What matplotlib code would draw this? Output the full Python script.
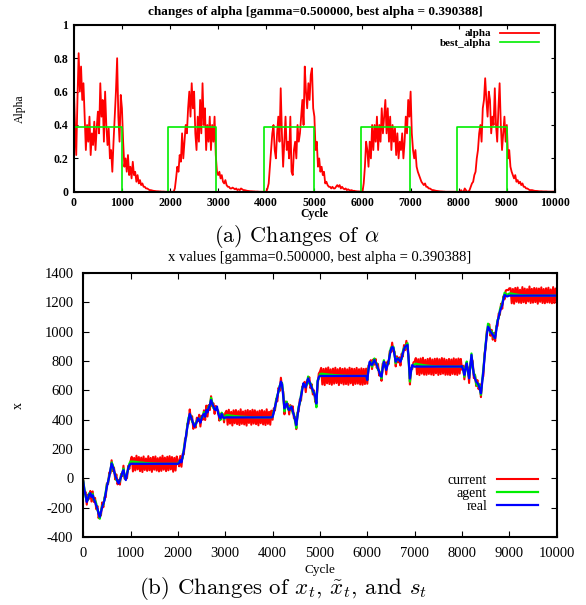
import numpy as np
import matplotlib
matplotlib.use("Agg")
import matplotlib.pyplot as plt

plt.rcParams['font.family'] = ['Liberation Serif', 'DejaVu Serif']
plt.rcParams['mathtext.fontset'] = 'cm'
plt.rcParams['axes.unicode_minus'] = False

# cycles sampled every 25 steps
cycle = np.arange(0, 10001, 25)

# alpha (active blocks 41 pts, idle blocks 39/40 pts)
alpha = ([0.62, 0.40, 0.22, 0.55, 0.83, 0.60, 0.75, 0.55, 0.65, 0.45, 0.25, 0.40, 0.30, 0.45, 0.22, 0.35, 0.28, 0.42, 0.25, 0.38,
          0.48, 0.35, 0.65, 0.45, 0.55, 0.30, 0.60, 0.40, 0.28, 0.38, 0.20, 0.25, 0.12, 0.30, 0.45, 0.60, 0.80, 0.45, 0.30, 0.58, 0.50]
         + [0.30, 0.15, 0.20, 0.12, 0.22, 0.10, 0.15, 0.08, 0.18, 0.10, 0.12, 0.06, 0.10, 0.05, 0.07, 0.04, 0.05, 0.03, 0.03, 0.02,
            0.02, 0.015, 0.01, 0.01, 0.008, 0.006, 0.005, 0.004, 0.003, 0.003, 0.002, 0.002, 0.001, 0.001, 0.001, 0.0, 0.0, 0.0, 0.0]
         + [0.0, 0.0, 0.0, 0.0, 0.02, 0.08, 0.15, 0.12, 0.22, 0.18, 0.35, 0.20, 0.30, 0.40, 0.35, 0.50, 0.60, 0.45, 0.65, 0.50,
            0.60, 0.35, 0.25, 0.45, 0.30, 0.55, 0.35, 0.65, 0.40, 0.50, 0.25, 0.40, 0.30, 0.45, 0.25, 0.40, 0.30, 0.45, 0.22, 0.12, 0.10]
         + [0.12, 0.08, 0.10, 0.06, 0.05, 0.07, 0.04, 0.03, 0.03, 0.02, 0.02, 0.025, 0.02, 0.015, 0.02, 0.01, 0.015, 0.01, 0.02, 0.015,
            0.01, 0.01, 0.008, 0.006, 0.005, 0.004, 0.003, 0.003, 0.002, 0.002, 0.001, 0.001, 0.001, 0.0, 0.0, 0.0, 0.0, 0.0, 0.0]
         + [0.0, 0.02, 0.05, 0.15, 0.25, 0.35, 0.40, 0.25, 0.20, 0.35, 0.45, 0.30, 0.62, 0.35, 0.15, 0.30, 0.45, 0.25, 0.30, 0.20,
            0.45, 0.12, 0.10, 0.25, 0.30, 0.20, 0.40, 0.30, 0.35, 0.45, 0.55, 0.40, 0.75, 0.60, 0.50, 0.65, 0.55, 0.70, 0.74, 0.50, 0.45]
         + [0.25, 0.30, 0.15, 0.20, 0.12, 0.15, 0.10, 0.12, 0.05, 0.06, 0.04, 0.03, 0.03, 0.02, 0.03, 0.02, 0.02, 0.03, 0.04, 0.03,
            0.04, 0.02, 0.03, 0.02, 0.015, 0.02, 0.01, 0.015, 0.01, 0.008, 0.01, 0.005, 0.006, 0.004, 0.003, 0.002, 0.002, 0.001, 0.0]
         + [0.0, 0.05, 0.15, 0.30, 0.25, 0.15, 0.30, 0.20, 0.40, 0.25, 0.40, 0.30, 0.45, 0.25, 0.40, 0.30, 0.50, 0.35, 0.45, 0.55,
            0.35, 0.50, 0.30, 0.45, 0.25, 0.40, 0.30, 0.38, 0.22, 0.35, 0.20, 0.30, 0.25, 0.35, 0.20, 0.30, 0.45, 0.35, 0.55, 0.45, 0.60]
         + [0.35, 0.25, 0.20, 0.25, 0.15, 0.12, 0.10, 0.08, 0.06, 0.05, 0.04, 0.05, 0.03, 0.03, 0.02, 0.02, 0.015, 0.01, 0.01, 0.008,
            0.006, 0.005, 0.004, 0.003, 0.002, 0.002, 0.001, 0.001, 0.0, 0.0, 0.0, 0.0, 0.0, 0.0, 0.0, 0.0, 0.0, 0.0, 0.0]
         + [0.0, 0.0, 0.01, 0.0, 0.0, 0.02, 0.01, 0.0, 0.0, 0.01, 0.03, 0.05, 0.06, 0.10, 0.12, 0.20, 0.25, 0.35, 0.40, 0.30,
            0.50, 0.55, 0.68, 0.55, 0.45, 0.60, 0.55, 0.35, 0.45, 0.40, 0.62, 0.40, 0.30, 0.50, 0.65, 0.40, 0.25, 0.35, 0.45, 0.30, 0.40]
         + [0.20, 0.25, 0.15, 0.12, 0.10, 0.08, 0.10, 0.06, 0.07, 0.05, 0.06, 0.04, 0.05, 0.03, 0.03, 0.02, 0.02, 0.015, 0.01, 0.01,
            0.01, 0.008, 0.006, 0.005, 0.005, 0.004, 0.003, 0.003, 0.003, 0.002, 0.002, 0.002, 0.002, 0.001, 0.001, 0.001, 0.001, 0.001, 0.001, 0.0])

# best_alpha switches
best_cycle = [0, 1000, 1960, 2960, 3950, 5000, 5960, 6980, 7970, 9000, 10000]
best_alpha = [0.390388, 0.0, 0.390388, 0.0, 0.390388, 0.0, 0.390388, 0.0, 0.390388, 0.0, 0.0]

# real x values
real = ([-20, -80, -114, -160, -140, -110, -100, -125, -114, -140, -160, -185, -205, -240, -262, -230, -195, -170, -148, -100,
         -57, -20, 11, 60, 102, 80, 57, 20, 0, -20, -34, -10, 11, 40, 57, 20, -11, 30, 68, 90, 100]
        + [100] * 39
        + [100, 105, 125, 110, 150, 190, 240, 300, 350, 400, 440, 420, 398, 370, 352, 370, 386, 410, 400, 380,
           409, 430, 440, 420, 466, 450, 480, 500, 534, 510, 490, 470, 466, 490, 443, 420, 409, 440, 420, 410, 416]
        + [416] * 39
        + [420, 450, 489, 520, 557, 600, 625, 660, 640, 560, 477, 500, 511, 480, 466, 480, 489, 460, 432, 400,
           364, 420, 480, 520, 560, 600, 648, 630, 620, 650, 682, 660, 640, 620, 600, 580, 557, 510, 659, 690, 698]
        + [698] * 39
        + [670, 740, 795, 780, 773, 790, 807, 790, 773, 750, 727, 700, 693, 750, 795, 770, 739, 770, 800, 840,
           880, 895, 890, 840, 795, 810, 818, 805, 795, 820, 852, 880, 898, 905, 909, 800, 680, 730, 773, 765, 761]
        + [762] * 39
        + [765, 740, 705, 750, 784, 730, 682, 760, 841, 770, 705, 680, 659, 650, 636, 610, 580, 650, 727, 820,
           909, 980, 1034, 1020, 1000, 990, 977, 965, 955, 1010, 1068, 1100, 1136, 1160, 1182, 1220, 1250, 1245, 1239, 1242, 1245]
        + [1245] * 40)

# agent offset from real
settle = [15, 15, 14, 13, 12, 11, 10, 9, 8, 8, 7, 6, 5, 5, 4, 4, 3, 3, 2, 2, 2, 1, 1, 1, 1] + [0] * 14
agent_gap = ([5, 12, -10, 8, -6, 10, -12, 8, 10, -8, 12, 15, -10, 8, -12, 10, 8, -10, 12, 8,
              15, -8, 10, -12, 8, 12, -10, 8, -12, 10, 8, -10, 12, -8, 10, -12, 8, 10, -8, 12, 15]
             + settle
             + [0, 10, -12, 15, -10, 12, 10, -8, 12, 15, -10, 8, -12, 10, 12, -8, 10, -12, 8, 10,
                8, -10, 12, 15, -8, 10, 12, -10, 15, 8, -12, 10, 8, -15, 12, 10, -10, 8, 12, -8, 8]
             + settle
             + [0, 12, -10, 15, 10, -12, 8, -15, 10, 12, -20, 10, 12, -10, 8, 12, -10, -15, 10, -12,
                -20, 10, 12, -10, 8, 15, -12, 10, 8, -10, 12, -15, 10, 8, -12, 10, -10, -25, 10, -12, 12]
             + settle
             + [0, 12, -10, 10, -12, 8, 10, -8, 12, -10, 8, 10, -12, 8, 10, -10, 12, 10, -15, 10,
                12, -10, 8, 12, -10, 10, -12, 8, 10, -8, 12, 10, -10, 8, 12, -15, -20, 10, -12, 10, 15]
             + [20, 18, 16, 15, 13, 12, 10, 9, 8, 7, 6, 5, 4, 4, 3, 3, 2, 2, 1, 1, 1] + [0] * 18
             + [0, 10, -12, 8, 12, -10, 10, -8, 10, -12, 12, 20, -15, -20, 10, 12, -10, 12, 15, 12,
                10, 12, 20, 15, -10, 12, 10, -8, 12, 10, 12, -10, 12, 15, 12, 10, 15, 12, 10, 12, 15]
             + [15, 14, 12, 10, 9, 8, 6, 5, 4, 4, 3, 3, 2, 2, 1, 1, 1] + [0] * 23)

# current offset from real (noise band)
current_gap = ([10, -25, 22, -18, 30, -28, 15, -32, 26, -20, 28, -24, 18, -30, 25, -22, 32, -26, 20, -28,
                24, -18, 30, -25, 22, -30, 18, -26, 28, -20, 25, -32, 20, -24, 30, -22, 26, -28, 18, -25, 20]
               + [48, -52, 40, -45, 55, -38, 46, -50, 42, -56, 50, -42, 36, -48, 52, -44, 40, -55, 47, -40,
                  50, -46, 38, -52, 44, -48, 55, -40, 42, -50, 48, -44, 52, -38, 46, -54, 40, -46, 50]
               + [20, -22, 28, -30, 18, -26, 32, -20, 24, -28, 30, -18, 26, -32, 22, -24, 28, -20, 34, -26,
                  18, -30, 24, -22, 30, -28, 20, -34, 26, -18, 22, -30, 28, -24, 20, -26, 32, -22, 18, -28, 30]
               + [45, -50, 52, -42, 38, -55, 48, -40, 50, -46, 42, -52, 55, -44, 40, -48, 46, -56, 50, -38,
                  44, -50, 52, -42, 48, -46, 40, -54, 46, -40, 50, -48, 42, -52, 55, -44, 38, -50, 46]
               + [-20, 28, -26, 22, -32, 18, -30, 26, -24, 30, -40, 24, -22, 28, -30, 20, -26, 32, -22, 18,
                  -28, 30, -24, 20, -30, 26, -22, 28, -32, 18, -24, 30, -26, 22, -28, 20, -36, 26, -30, 24, 30]
               + [55, -58, 48, -62, 52, -50, 58, -55, 45, -60, 50, -52, 56, -48, 46, -62, 54, -50, 48, -58,
                  52, -55, 45, -60, 56, -50, 50, -62, 48, -54, 55, -52, 46, -58, 52, -60, 48, -55, 50]
               + [-25, 30, -22, 26, -28, 20, -32, 24, -20, 30, -26, 22, -28, 32, -24, 20, -30, 26, -22, 28,
                  -20, 30, -26, 24, -32, 22, -28, 20, -26, 30, -22, 28, -24, 32, -30, 24, -40, 22, -28, 26, 35]
               + [58, -52, 50, -58, 55, -48, 60, -55, 46, -56, 52, -50, 57, -54, 48, -58, 53, -46, 55, -57,
                  50, -52, 58, -48, 54, -56, 46, -55, 52, -58, 48, -50, 56, -54, 50, -57, 55, -48, 52]
               + [-25, 28, -30, 22, -20, 26, -32, 24, -28, 30, -22, 26, -30, 20, -28, 32, -26, 22, -30, 28,
                  -20, 26, -24, 30, -28, 22, -32, 26, -20, 28, -30, 24, -22, 30, -26, 20, -30, 35, 45, 40, 50]
               + [50, -52, 45, -55, 52, -42, 55, -48, 40, -50, 58, -45, 48, -52, 44, -40, 62, -50, 46, -48,
                  52, -44, 50, -55, 48, -42, 56, -50, 45, -52, 50, -46, 54, -48, 42, -52, 58, -50, 48, -46])

real = np.array(real, dtype=float)
agent = real + np.array(agent_gap)
current = real + np.array(current_gap)

fig = plt.figure(figsize=(5.86, 6.05), dpi=100)

# ---- (a) alpha ----
ax1 = fig.add_axes([0.126, 0.683, 0.821, 0.276])
ax1.plot(cycle, alpha, color='#ff0000', lw=1.3, label='alpha')
ax1.step(best_cycle, best_alpha, where='post', color='#00ee00', lw=1.2, label='best_alpha')
ax1.set_xlim(0, 10000)
ax1.set_ylim(0, 1)
ax1.set_xticks(np.arange(0, 10001, 1000))
ax1.set_yticks([0, 0.2, 0.4, 0.6, 0.8, 1])
ax1.set_yticklabels(['0', '0.2', '0.4', '0.6', '0.8', '1'])
ax1.tick_params(direction='in', top=True, right=True, labelsize=8.5, length=3, pad=4)
for lbl in ax1.get_xticklabels() + ax1.get_yticklabels():
    lbl.set_fontweight('bold')
ax1.set_xlabel('Cycle', fontsize=8.5, fontweight='bold', labelpad=-1)
ax1.set_ylabel('Alpha', fontsize=8.5, labelpad=20)
for s in ax1.spines.values():
    s.set_linewidth(1.5)
ax1.legend(loc='upper right', bbox_to_anchor=(0.985, 1.03), frameon=False, markerfirst=False,
           handlelength=3.5, handletextpad=0.8, labelspacing=-0.05, borderpad=0.3,
           prop={'weight': 'bold', 'size': 8})
fig.text(315 / 586, 1 - 12 / 605, 'changes of alpha [gamma=0.500000, best alpha = 0.390388]',
         ha='center', va='center', fontsize=9.5, fontweight='bold')
fig.text(297 / 586, 1 - 236 / 605, r'(a) Changes of $\alpha$', ha='center', va='center',
         fontsize=16, family='cmr10')

# ---- (b) x values ----
ax2 = fig.add_axes([0.142, 0.112, 0.808, 0.437])
ax2.plot(cycle, current, color='#ff0000', lw=1.5, label='current')
ax2.plot(cycle, agent, color='#00ee00', lw=1.6, label='agent')
ax2.plot(cycle, real, color='#0000ff', lw=1.6, label='real')
ax2.set_xlim(0, 10000)
ax2.set_ylim(-400, 1400)
ax2.set_xticks(np.arange(0, 10001, 1000))
ax2.set_yticks(np.arange(-400, 1401, 200))
ax2.tick_params(direction='in', top=True, right=True, labelsize=10.5, length=4, pad=7)
ax2.set_xlabel('Cycle', fontsize=9.5, labelpad=3)
ax2.set_ylabel('x', fontsize=10, labelpad=14)
for s in ax2.spines.values():
    s.set_linewidth(1.5)
ax2.legend(loc='lower right', bbox_to_anchor=(0.985, 0.05), frameon=False, markerfirst=False,
           fontsize=10, handlelength=3.0, handletextpad=0.7, labelspacing=0.0, borderpad=0.3)
fig.text(320 / 586, 1 - 257 / 605, 'x values [gamma=0.500000, best alpha = 0.390388]',
         ha='center', va='center', fontsize=10.5)
fig.text(283 / 586, 1 - 589 / 605, r'(b) Changes of $x_t$, $\tilde{x}_t$, and $s_t$',
         ha='center', va='center', fontsize=16.5, family='cmr10')

fig.savefig('out.png', dpi=100)
